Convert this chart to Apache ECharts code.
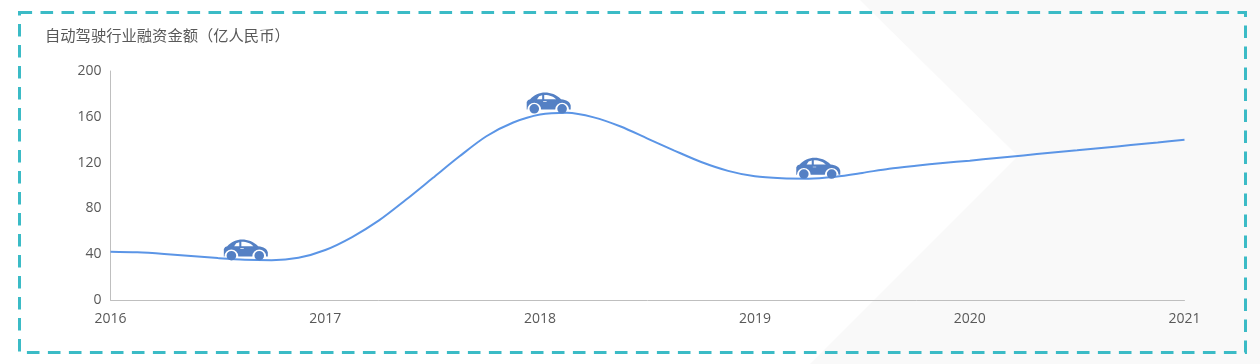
<!DOCTYPE html>
<html>
<head>
<meta charset="utf-8">
<style>html,body{margin:0;padding:0;background:#fff}#c{width:1260px;height:364px}</style>
<script src="https://cdn.jsdelivr.net/npm/echarts@6/dist/echarts.min.js"></script>
</head>
<body>
<div id="c"></div>
<script>
var titleText = '自动驾驶行业融资金额（亿人民币）';
var years = [2016,2016.125,2016.25,2016.375,2016.5,2016.625,2016.75,2016.875,2017,2017.125,2017.25,2017.375,2017.5,2017.625,2017.75,2017.875,2018,2018.125,2018.25,2018.375,2018.5,2018.625,2018.75,2018.875,2019,2019.125,2019.25,2019.375,2019.5,2019.625,2019.75,2019.875,2020,2020.125,2020.25,2020.375,2020.5,2020.625,2020.75,2020.875,2021];
var amounts = [42.2,41.6,40.2,38.4,36.6,35.2,34.8,36.9,43.7,55,69.5,87.5,106.5,125.5,143,155,162,163.5,159.5,151.5,141,130.5,120.5,112.8,108,106.3,106,107.7,111,114.7,117.3,119.6,121.7,124,126.3,128.6,130.7,133,135.3,137.6,140];
var carYears = [2016.63,2018.04,2019.295];
var carValues = [43.7,172,115];
var carPath = 'path://M2 50 L2 28 L6 22 L12 20 C22 8 40 0 55 0 C72 0 88 6 102 20 C118 22 128 28 130 38 L130 50 L125 50 A20 20 0 1 0 85 50 L44 50 A20 20 0 1 0 4 50 Z ' +
  'M47 8 L38 11 L32 20 L47 20 Z M53 7 L53 20 L88 20 C80 12 70 7 53 7 Z M50 26 L50 28 L60 28 L60 26 Z ' +
  'M10 48 A14 14 0 1 0 38 48 A14 14 0 1 0 10 48 Z M91 48 A14 14 0 1 0 119 48 A14 14 0 1 0 91 48 Z';
var latin = '"Open Sans","Noto Sans CJK SC",sans-serif';

var chart = echarts.init(document.getElementById('c'), null, {renderer:'canvas'});
chart.setOption({
  animation:false,
  backgroundColor:'#ffffff',
  graphic:[
    {type:'polygon',z:-10,silent:true,shape:{points:[[860,0],[1260,0],[1260,364],[810,364],[1018,156]]},style:{fill:'#f9f9f9'}},
    {type:'rect',z:-5,silent:true,shape:{x:19.5,y:12.5,width:1226,height:340},style:{fill:'none',stroke:'#3bbbc6',lineWidth:3,lineDash:[12.6,8.4]}}
  ],
  title:{text:titleText,left:45,top:28,padding:0,textStyle:{fontFamily:'"Noto Sans CJK SC",sans-serif',fontSize:15.3,fontWeight:'normal',color:'#595959'}},
  grid:{left:110.5,right:75.5,top:71,height:229,containLabel:false},
  xAxis:{type:'value',min:2016,max:2021,interval:1,
    axisLine:{show:true,lineStyle:{color:'#bfbfbf',width:1}},
    axisTick:{show:false},splitLine:{show:false},
    axisLabel:{margin:12,color:'#595959',fontFamily:latin,fontSize:14,formatter:function(v){return String(v);}}},
  yAxis:{type:'value',min:0,max:200,interval:40,
    axisLine:{show:true,lineStyle:{color:'#bfbfbf',width:1}},
    axisTick:{show:false},splitLine:{show:false},
    axisLabel:{margin:9,color:'#595959',fontFamily:latin,fontSize:14,verticalAlign:'middle',lineHeight:16,padding:[6,0,0,0]}},
  series:[
    {type:'line',smooth:0.3,symbol:'none',data:years.map(function(y,i){return [y,amounts[i]];}),lineStyle:{color:'#5b95e6',width:2},z:2,silent:true},
    {type:'scatter',symbol:carPath,symbolSize:[44,21],symbolKeepAspect:false,data:carYears.map(function(y,i){return [y,carValues[i]];}),itemStyle:{color:'#5480c4',opacity:1},z:3,silent:true}
  ]
});
</script>
</body>
</html>
